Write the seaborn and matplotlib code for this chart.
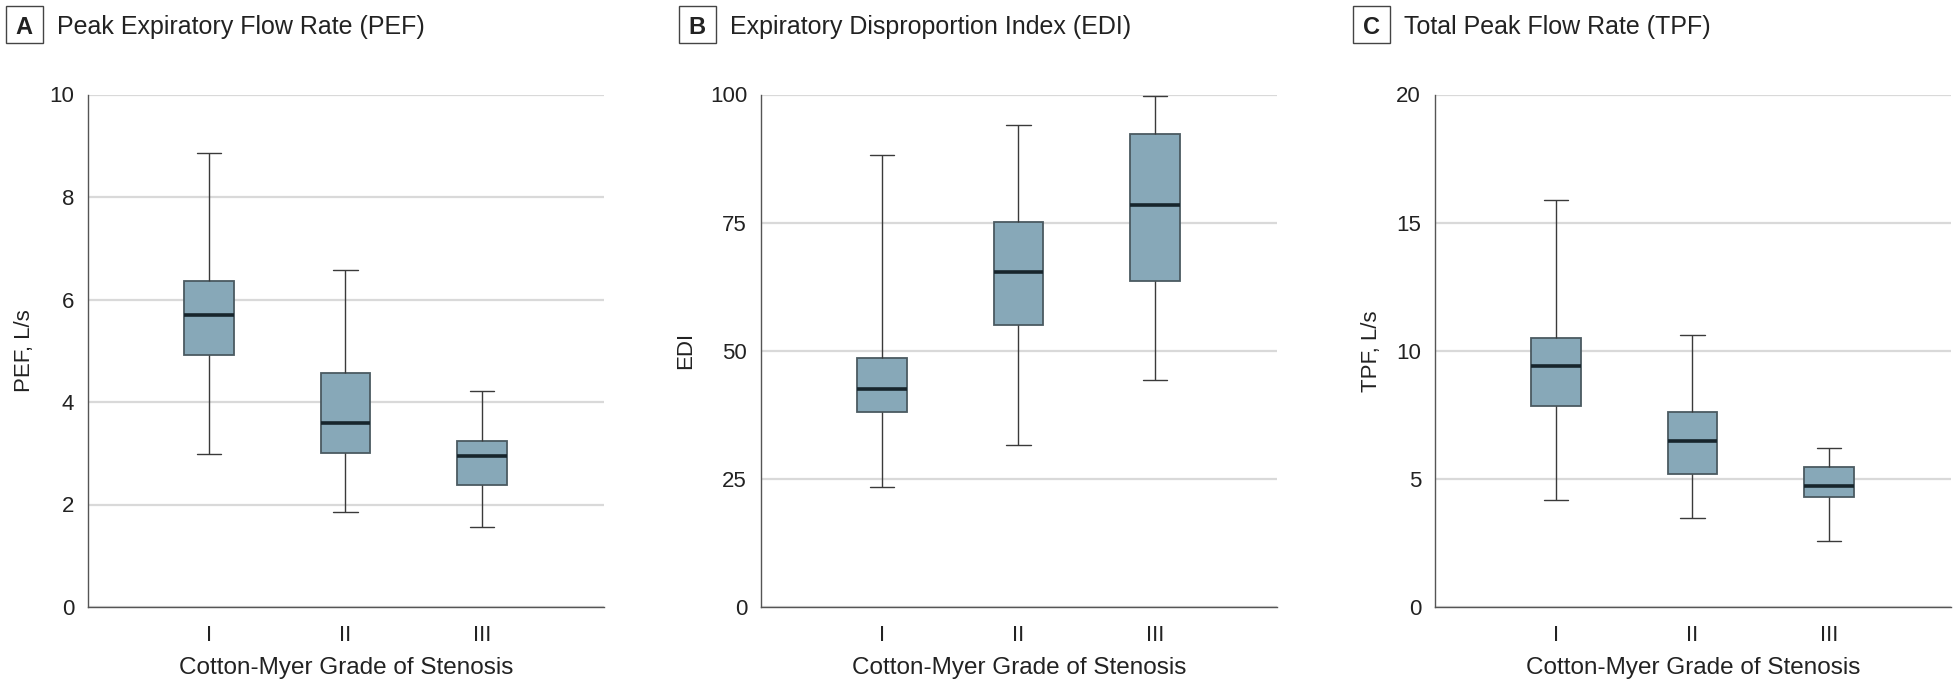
import pandas as pd
import matplotlib.pyplot as plt
import seaborn as sns
from matplotlib.patches import Rectangle

# five-number summaries: min, Q1, median, Q3, max
GRADES = ["I", "II", "III"]

pef_I = [2.98, 4.91, 5.70, 6.37, 8.86]
pef_II = [1.85, 3.00, 3.59, 4.57, 6.58]
pef_III = [1.57, 2.38, 2.94, 3.23, 4.21]

edi_I = [23.4, 38.1, 42.5, 48.5, 88.2]
edi_II = [31.7, 55.1, 65.4, 75.2, 94.1]
edi_III = [44.2, 63.6, 78.5, 92.3, 99.7]

tpf_I = [4.17, 7.85, 9.39, 10.48, 15.87]
tpf_II = [3.47, 5.20, 6.48, 7.60, 10.60]
tpf_III = [2.58, 4.29, 4.73, 5.46, 6.20]

PANELS = [
    ("A", "Peak Expiratory Flow Rate (PEF)", "PEF, L/s", [pef_I, pef_II, pef_III], 10, 2),
    ("B", "Expiratory Disproportion Index (EDI)", "EDI", [edi_I, edi_II, edi_III], 100, 25),
    ("C", "Total Peak Flow Rate (TPF)", "TPF, L/s", [tpf_I, tpf_II, tpf_III], 20, 5),
]

BOX_COLOR = "#87a8b8"
EDGE_COLOR = "#4b5a61"
LINE_COLOR = "#3a3a3a"
MEDIAN_COLOR = "#17252c"
GRID_COLOR = "#d9d9d9"
SPINE_COLOR = "#555555"

sns.set_style("white")
plt.rcParams["font.family"] = ["Liberation Sans", "DejaVu Sans"]

W, H = 1957, 692
fig = plt.figure(figsize=(W / 100, H / 100), dpi=100)

ax_lefts = [88, 761, 1435]
ax_w = 516
ax_top, ax_bot = 94.5, 607

for (tag, title, ylabel, groups, ymax, ystep), left in zip(PANELS, ax_lefts):
    ax = fig.add_axes([left / W, 1 - ax_bot / H, ax_w / W, (ax_bot - ax_top) / H])

    df = pd.DataFrame(
        [(g, v) for g, vals in zip(GRADES, groups) for v in vals],
        columns=["grade", "value"],
    )
    sns.boxplot(
        data=df, x="grade", y="value", order=GRADES, ax=ax,
        whis=(0, 100), width=0.36, color=BOX_COLOR, saturation=1,
        linecolor=LINE_COLOR, linewidth=1.0, showfliers=False,
        boxprops=dict(edgecolor=EDGE_COLOR, linewidth=1.3),
        medianprops=dict(color=MEDIAN_COLOR, linewidth=2.6),
    )

    ax.set_xlim(-0.886, 2.894)
    ax.set_ylim(0, ymax)
    ax.set_yticks(range(0, ymax + 1, ystep))
    ax.yaxis.grid(True, color=GRID_COLOR, linewidth=1.6)
    ax.set_axisbelow(True)
    for s in ["top", "right"]:
        ax.spines[s].set_visible(False)
    for s in ["left", "bottom"]:
        ax.spines[s].set_color(SPINE_COLOR)
        ax.spines[s].set_linewidth(1.0)
    ax.tick_params(axis="both", length=6, width=1, color=SPINE_COLOR,
                   labelsize=16, labelcolor="#222222", direction="out")
    ax.tick_params(axis="x", pad=7)
    ax.tick_params(axis="y", pad=4)
    ax.set_xlabel("Cotton-Myer Grade of Stenosis", fontsize=17.5, color="#222222", labelpad=8)
    ax.set_ylabel(ylabel, fontsize=16, color="#222222", labelpad=10)

    # panel tag box and title
    bx = left - 82.5
    fig.patches.append(Rectangle((bx / W, 1 - 43 / H), 37 / W, 37 / H,
                                 transform=fig.transFigure, facecolor="white",
                                 edgecolor="#444444", linewidth=1.0))
    fig.text((bx + 18.5) / W, 1 - 34 / H, tag, ha="center", va="baseline",
             fontsize=17, fontweight="bold", color="#222222")
    fig.text((left - 31) / W, 1 - 34 / H, title, ha="left", va="baseline",
             fontsize=18, color="#222222")

fig.savefig("out.png", dpi=100)
